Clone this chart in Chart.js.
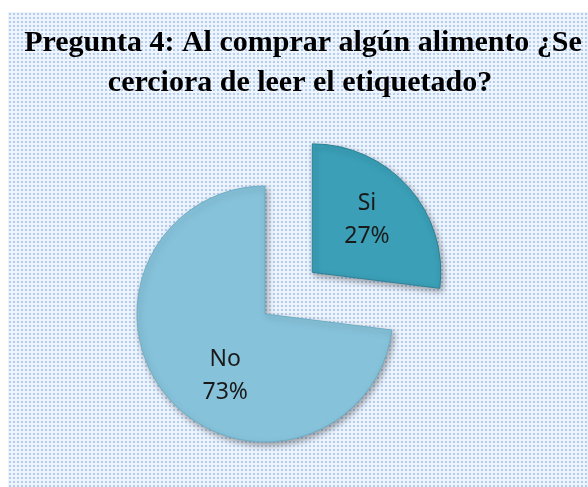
<!DOCTYPE html>
<html>
<head>
<meta charset="utf-8">
<script src="https://cdn.jsdelivr.net/npm/chart.js@4.4.0/dist/chart.umd.min.js"></script>
<style>
  html, body { margin: 0; padding: 0; background: #ffffff; }
  #wrap { width: 588px; height: 487px; }
</style>
</head>
<body>
<div id="wrap"><canvas id="pie"></canvas></div>
<script>
// data
const titleLines = ['Pregunta 4: Al comprar algún alimento ¿Se', 'cerciora de leer el etiquetado?'];
const categories = ['Si', 'No'];
const percents = [27, 73];
const colors = ['#3a9fb7', '#86c3db'];

// small nudges so the labels sit where excel put them
var labelNudge = [[1, -5], [14, 14]];

// dotted background like the original sheet
function makeDots(ctx){
    var c = document.createElement('canvas');
    c.width = 4; c.height = 4;
    var p = c.getContext('2d');
    p.fillStyle = '#eef4fc';
    p.fillRect(0, 0, 4, 4);
    p.fillStyle = '#b4cdef';
    p.fillRect(1, 1, 2, 2);
    return ctx.createPattern(c, 'repeat');
}

const backdrop = {
    id: 'backdrop',
    beforeDraw(chart){
        var ctx = chart.ctx;
        ctx.save();
        ctx.fillStyle = makeDots(ctx);
        ctx.fillRect(8, 12, chart.width - 8, chart.height - 12);
        // title
        ctx.fillStyle = '#000000';
        ctx.font = 'bold 30px "Liberation Serif"';
        ctx.textAlign = 'center';
        ctx.textBaseline = 'alphabetic';
        ctx.fillText(titleLines[0], 303, 51);
        ctx.fillText(titleLines[1], 300, 91);
        ctx.restore();
    },
    beforeDatasetsDraw(chart){
        var ctx = chart.ctx;
        ctx.save();
        ctx.shadowColor = 'rgba(0,0,0,0.35)';
        ctx.shadowBlur = 6;
        ctx.shadowOffsetX = 2;
        ctx.shadowOffsetY = 3;
    },
    afterDatasetsDraw(chart){
        var ctx = chart.ctx;
        ctx.restore();
        // slice labels
        var meta = chart.getDatasetMeta(0);
        ctx.save();
        ctx.fillStyle = '#1a1a1a';
        ctx.font = '23px "Noto Sans"';
        ctx.textAlign = 'center';
        ctx.textBaseline = 'middle';
        meta.data.forEach(function(arc, i){
            var a = (arc.startAngle + arc.endAngle) / 2;
            var r = arc.outerRadius * 0.56 + (arc.options.offset || 0) / 4;
            var x = arc.x + Math.cos(a) * r + labelNudge[i][0];
            var y = arc.y + Math.sin(a) * r + labelNudge[i][1];
            ctx.fillText(categories[i], x, y - 16);
            ctx.fillText(percents[i] + '%', x, y + 17);
        });
        ctx.restore();
    }
};

var ctx = document.getElementById('pie').getContext('2d');
var myChart = new Chart(ctx, {
    type: 'pie',
    data: {
        labels: categories,
        datasets: [{
            data: percents,
            backgroundColor: colors,
            borderColor: ['#2b8399', '#6eaec6'],
            borderWidth: 1,
            offset: [252, 0],
            radius: 128
        }]
    },
    options: {
        responsive: true,
        maintainAspectRatio: false,
        animation: false,
        layout: {
            padding: { left: 0, right: 58, top: 142, bottom: 1 }
        },
        plugins: {
            legend: { display: false },
            title: { display: false },
            tooltip: { enabled: false }
        }
    },
    plugins: [backdrop]
});
</script>
</body>
</html>
